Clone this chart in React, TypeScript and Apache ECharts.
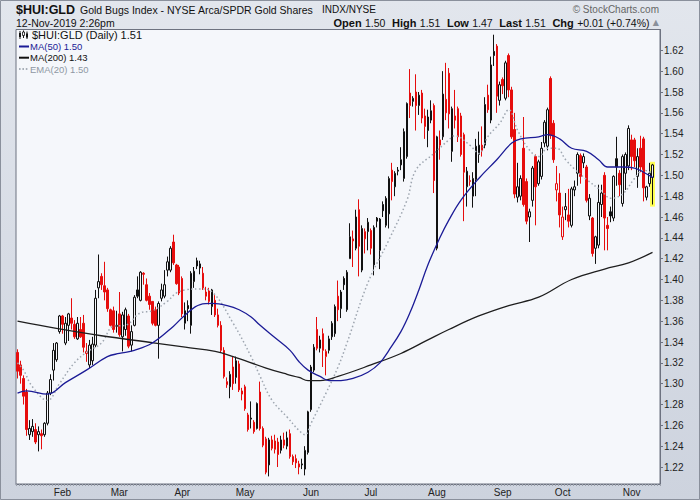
import React, { useEffect, useRef } from "react";
import * as echarts from "echarts";

// ---------- data ----------
const firstDay = "2019-01-10";
const lastSlot = "2019-11-14";
const holidays = ["2019-01-21", "2019-02-18", "2019-04-19", "2019-05-27", "2019-07-04", "2019-09-02"];
const monthNames = ["Jan", "Feb", "Mar", "Apr", "May", "Jun", "Jul", "Aug", "Sep", "Oct", "Nov", "Dec"];
const yTicks = [1.22, 1.24, 1.26, 1.28, 1.3, 1.32, 1.34, 1.36, 1.38, 1.4, 1.42, 1.44, 1.46, 1.48, 1.5, 1.52, 1.54, 1.56, 1.58, 1.6, 1.62];

// [open, close, low, high]
const ohlc = [
  [1.330, 1.312, 1.305, 1.333], [1.318, 1.308, 1.300, 1.322], [1.305, 1.288, 1.280, 1.308], [1.292, 1.256, 1.250, 1.295],
  [1.251, 1.257, 1.246, 1.265], [1.254, 1.259, 1.249, 1.266], [1.256, 1.244, 1.242, 1.262], [1.251, 1.254, 1.235, 1.259],
  [1.252, 1.250, 1.237, 1.256], [1.251, 1.262, 1.249, 1.263], [1.262, 1.291, 1.260, 1.293], [1.291, 1.304, 1.289, 1.309],
  [1.313, 1.332, 1.303, 1.339], [1.323, 1.339, 1.321, 1.340], [1.350, 1.365, 1.348, 1.366], [1.365, 1.357, 1.348, 1.366],
  [1.339, 1.358, 1.337, 1.364], [1.356, 1.367, 1.341, 1.368], [1.363, 1.358, 1.352, 1.382], [1.357, 1.345, 1.343, 1.361],
  [1.343, 1.358, 1.342, 1.364], [1.352, 1.345, 1.344, 1.364], [1.358, 1.335, 1.330, 1.366], [1.329, 1.331, 1.321, 1.339],
  [1.318, 1.337, 1.315, 1.342], [1.322, 1.338, 1.318, 1.345], [1.337, 1.382, 1.335, 1.390], [1.392, 1.398, 1.382, 1.424],
  [1.403, 1.395, 1.390, 1.406], [1.394, 1.388, 1.380, 1.417], [1.390, 1.372, 1.369, 1.392], [1.371, 1.356, 1.355, 1.372],
  [1.370, 1.352, 1.349, 1.374], [1.355, 1.356, 1.349, 1.370], [1.367, 1.347, 1.345, 1.388], [1.345, 1.366, 1.331, 1.369],
  [1.352, 1.371, 1.346, 1.373], [1.365, 1.336, 1.334, 1.367], [1.337, 1.350, 1.331, 1.356], [1.356, 1.383, 1.355, 1.385],
  [1.390, 1.384, 1.382, 1.403], [1.380, 1.407, 1.379, 1.408], [1.406, 1.405, 1.395, 1.407], [1.395, 1.380, 1.379, 1.401],
  [1.384, 1.376, 1.371, 1.387], [1.379, 1.358, 1.356, 1.379], [1.371, 1.356, 1.355, 1.374], [1.356, 1.377, 1.324, 1.379],
  [1.382, 1.390, 1.379, 1.396], [1.384, 1.395, 1.382, 1.409], [1.409, 1.417, 1.403, 1.422], [1.409, 1.430, 1.407, 1.432],
  [1.436, 1.416, 1.414, 1.443], [1.414, 1.396, 1.395, 1.415], [1.412, 1.387, 1.385, 1.414], [1.401, 1.367, 1.364, 1.403],
  [1.358, 1.370, 1.352, 1.378], [1.375, 1.372, 1.360, 1.380], [1.356, 1.406, 1.348, 1.408], [1.398, 1.408, 1.392, 1.412],
  [1.418, 1.413, 1.410, 1.421], [1.411, 1.415, 1.405, 1.418], [1.406, 1.392, 1.390, 1.412], [1.388, 1.384, 1.380, 1.393],
  [1.389, 1.379, 1.376, 1.392], [1.374, 1.390, 1.366, 1.391], [1.380, 1.366, 1.364, 1.385], [1.366, 1.356, 1.354, 1.372],
  [1.356, 1.332, 1.330, 1.360], [1.332, 1.307, 1.305, 1.335], [1.299, 1.302, 1.296, 1.306], [1.297, 1.309, 1.286, 1.312],
  [1.316, 1.300, 1.294, 1.326], [1.306, 1.322, 1.300, 1.326], [1.319, 1.294, 1.292, 1.322], [1.290, 1.293, 1.284, 1.296],
  [1.297, 1.276, 1.274, 1.299], [1.270, 1.256, 1.254, 1.272], [1.266, 1.267, 1.257, 1.283], [1.263, 1.254, 1.252, 1.265],
  [1.257, 1.281, 1.256, 1.282], [1.292, 1.257, 1.255, 1.302], [1.257, 1.241, 1.239, 1.259], [1.247, 1.215, 1.213, 1.249],
  [1.222, 1.246, 1.211, 1.248], [1.246, 1.238, 1.236, 1.250], [1.245, 1.237, 1.233, 1.251], [1.244, 1.232, 1.220, 1.248],
  [1.236, 1.246, 1.233, 1.250], [1.246, 1.241, 1.238, 1.253], [1.240, 1.248, 1.237, 1.254], [1.252, 1.230, 1.228, 1.256],
  [1.230, 1.225, 1.222, 1.232], [1.228, 1.224, 1.219, 1.232], [1.223, 1.220, 1.213, 1.226], [1.222, 1.223, 1.218, 1.228],
  [1.218, 1.236, 1.212, 1.240], [1.234, 1.273, 1.232, 1.274], [1.275, 1.316, 1.273, 1.318], [1.313, 1.335, 1.311, 1.338],
  [1.352, 1.334, 1.332, 1.364], [1.334, 1.342, 1.330, 1.346], [1.348, 1.332, 1.316, 1.353], [1.326, 1.331, 1.308, 1.333],
  [1.332, 1.343, 1.329, 1.346], [1.345, 1.358, 1.342, 1.360], [1.348, 1.374, 1.345, 1.376], [1.384, 1.371, 1.360, 1.399],
  [1.372, 1.388, 1.363, 1.390], [1.401, 1.395, 1.390, 1.403], [1.371, 1.407, 1.369, 1.409], [1.420, 1.441, 1.420, 1.454],
  [1.437, 1.439, 1.412, 1.447], [1.430, 1.460, 1.428, 1.467], [1.467, 1.432, 1.403, 1.477], [1.409, 1.449, 1.407, 1.452],
  [1.439, 1.446, 1.425, 1.449], [1.446, 1.455, 1.428, 1.459], [1.447, 1.430, 1.424, 1.449], [1.414, 1.450, 1.404, 1.452],
  [1.459, 1.456, 1.450, 1.460], [1.428, 1.458, 1.410, 1.459], [1.472, 1.466, 1.460, 1.475], [1.452, 1.478, 1.450, 1.480],
  [1.463, 1.497, 1.449, 1.499], [1.505, 1.494, 1.476, 1.512], [1.489, 1.502, 1.480, 1.504], [1.504, 1.505, 1.500, 1.508],
  [1.510, 1.515, 1.505, 1.527], [1.497, 1.542, 1.494, 1.545], [1.518, 1.569, 1.516, 1.570], [1.579, 1.567, 1.555, 1.602],
  [1.571, 1.574, 1.566, 1.576], [1.580, 1.567, 1.543, 1.597], [1.567, 1.577, 1.558, 1.580], [1.579, 1.555, 1.550, 1.582],
  [1.557, 1.547, 1.535, 1.564], [1.543, 1.556, 1.527, 1.563], [1.553, 1.562, 1.550, 1.572], [1.567, 1.495, 1.483, 1.569],
  [1.430, 1.537, 1.428, 1.538], [1.529, 1.534, 1.515, 1.543], [1.537, 1.578, 1.534, 1.600], [1.573, 1.560, 1.553, 1.608],
  [1.598, 1.559, 1.545, 1.603], [1.523, 1.564, 1.513, 1.566], [1.557, 1.553, 1.545, 1.582], [1.564, 1.537, 1.532, 1.566],
  [1.557, 1.520, 1.518, 1.560], [1.539, 1.503, 1.456, 1.541], [1.489, 1.504, 1.470, 1.508], [1.494, 1.495, 1.490, 1.500],
  [1.480, 1.497, 1.469, 1.503], [1.496, 1.528, 1.480, 1.535], [1.520, 1.529, 1.512, 1.542], [1.529, 1.524, 1.518, 1.547],
  [1.529, 1.568, 1.526, 1.575], [1.577, 1.563, 1.560, 1.587], [1.553, 1.606, 1.550, 1.614], [1.619, 1.615, 1.605, 1.635],
  [1.624, 1.576, 1.560, 1.626], [1.572, 1.587, 1.567, 1.590], [1.592, 1.586, 1.578, 1.594], [1.574, 1.608, 1.572, 1.610],
  [1.615, 1.582, 1.575, 1.617], [1.582, 1.537, 1.535, 1.585], [1.544, 1.482, 1.478, 1.560], [1.479, 1.489, 1.474, 1.512],
  [1.480, 1.497, 1.476, 1.500], [1.526, 1.472, 1.470, 1.556], [1.494, 1.456, 1.453, 1.497], [1.460, 1.465, 1.436, 1.468],
  [1.476, 1.507, 1.470, 1.509], [1.518, 1.489, 1.452, 1.520], [1.492, 1.513, 1.490, 1.515], [1.499, 1.526, 1.496, 1.532],
  [1.531, 1.551, 1.527, 1.553], [1.528, 1.563, 1.524, 1.565], [1.593, 1.538, 1.535, 1.595], [1.550, 1.515, 1.512, 1.553],
  [1.486, 1.492, 1.475, 1.509], [1.483, 1.462, 1.450, 1.502], [1.441, 1.460, 1.438, 1.470], [1.467, 1.470, 1.457, 1.483],
  [1.462, 1.456, 1.450, 1.487], [1.452, 1.487, 1.450, 1.489], [1.486, 1.489, 1.480, 1.495], [1.502, 1.520, 1.490, 1.522],
  [1.519, 1.499, 1.492, 1.521], [1.512, 1.518, 1.507, 1.521], [1.508, 1.476, 1.474, 1.510], [1.461, 1.478, 1.457, 1.482],
  [1.459, 1.425, 1.422, 1.460], [1.430, 1.441, 1.415, 1.442], [1.433, 1.474, 1.430, 1.491], [1.472, 1.483, 1.460, 1.491],
  [1.500, 1.459, 1.428, 1.503], [1.452, 1.449, 1.428, 1.460], [1.465, 1.461, 1.455, 1.470], [1.459, 1.499, 1.456, 1.500],
  [1.516, 1.508, 1.490, 1.537], [1.502, 1.491, 1.480, 1.505], [1.473, 1.518, 1.470, 1.520], [1.502, 1.520, 1.486, 1.522],
  [1.509, 1.545, 1.505, 1.548], [1.534, 1.518, 1.505, 1.539], [1.534, 1.514, 1.508, 1.536], [1.499, 1.518, 1.488, 1.526],
  [1.526, 1.508, 1.503, 1.538], [1.535, 1.488, 1.475, 1.537], [1.479, 1.489, 1.476, 1.490], [1.492, 1.502, 1.489, 1.512],
  [1.498, 1.510, 1.472, 1.511],
];

// [day index, value]
const ma50 = [
  [0, 1.291], [3, 1.293], [10, 1.29], [16, 1.301], [23, 1.313], [30, 1.326], [34, 1.329], [39, 1.332], [45, 1.339],
  [52, 1.355], [56, 1.366], [61, 1.376], [65, 1.377], [70, 1.375], [74, 1.371], [78, 1.364], [81, 1.356], [86, 1.344],
  [91, 1.332], [94, 1.321], [97, 1.313], [101, 1.307], [104, 1.303], [108, 1.303], [112, 1.305], [117, 1.311],
  [121, 1.32], [124, 1.332], [128, 1.35], [131, 1.368], [134, 1.39], [137, 1.414], [141, 1.44], [144, 1.457],
  [148, 1.476], [154, 1.497], [160, 1.515], [165, 1.531], [168, 1.535], [174, 1.537], [177, 1.539], [181, 1.535],
  [185, 1.526], [190, 1.523], [194, 1.515], [197, 1.508], [202, 1.508], [206, 1.507], [209, 1.503], [212, 1.498],
];
const ma200 = [
  [0, 1.36], [13, 1.353], [28, 1.346], [46, 1.339], [56, 1.335], [66, 1.331], [72, 1.326], [83, 1.315], [90, 1.309],
  [94, 1.306], [97, 1.303], [101, 1.303], [107, 1.307], [118, 1.318], [128, 1.329], [137, 1.342], [144, 1.352],
  [154, 1.365], [164, 1.375], [174, 1.383], [185, 1.4], [196, 1.41], [204, 1.416], [212, 1.426],
];
const ema20 = [
  [0, 1.32], [2, 1.313], [5, 1.297], [10, 1.284], [14, 1.3], [19, 1.32], [23, 1.33], [28, 1.339], [32, 1.355],
  [36, 1.356], [41, 1.368], [45, 1.37], [50, 1.379], [53, 1.387], [56, 1.39], [61, 1.391], [65, 1.388], [72, 1.358],
  [78, 1.326], [81, 1.307], [85, 1.284], [90, 1.268], [94, 1.255], [96, 1.251], [98, 1.262], [103, 1.291],
  [107, 1.316], [110, 1.339], [117, 1.397], [124, 1.438], [130, 1.476], [133, 1.505], [139, 1.521], [144, 1.534],
  [146, 1.538], [151, 1.529], [154, 1.521], [157, 1.537], [161, 1.55], [164, 1.563], [167, 1.543], [171, 1.524],
  [174, 1.518], [177, 1.526], [180, 1.526], [183, 1.515], [186, 1.506], [190, 1.496], [195, 1.485], [198, 1.478],
  [202, 1.482], [206, 1.497], [209, 1.505], [212, 1.502],
];
const highlightRange = [1.47, 1.513];

// ---------- styles ----------
const RED = "#e60d0d";
const BLACK = "#111111";
const PLOT_BG = "#f5f7fb";
const FONT = '"Liberation Sans", Arial, sans-serif';

function tradingDays(start: string, end: string, skip: string[]) {
  const out: string[] = [];
  const d = new Date(start + "T00:00:00Z");
  const e = new Date(end + "T00:00:00Z");
  while (d <= e) {
    const wd = d.getUTCDay();
    const s = d.toISOString().slice(0, 10);
    if (wd !== 0 && wd !== 6 && skip.indexOf(s) < 0) out.push(s);
    d.setUTCDate(d.getUTCDate() + 1);
  }
  return out;
}

export default function App() {
  const ref = useRef<HTMLDivElement>(null);
  useEffect(() => {
    document.body.style.margin = "0";
    if (!ref.current) return;
    const chart = echarts.init(ref.current, null, { renderer: "svg" });
    const dates = tradingDays(firstDay, lastSlot, holidays);
    const lastIdx = ohlc.length - 1;

    const candles = ohlc.map((c, i) => {
      const o = c[0];
      const cl = c[1];
      const prev = i > 0 ? ohlc[i - 1][1] : o;
      const col = cl < prev ? RED : BLACK;
      const fill = cl > o ? PLOT_BG : col;
      return {
        value: c,
        itemStyle: { color: fill, color0: fill, borderColor: col, borderColor0: col, borderColorDoji: col },
      };
    });

    const isMonthStart = (idx: number) => {
      if (idx === 0) return false;
      return dates[idx].slice(5, 7) !== dates[idx - 1].slice(5, 7);
    };

    const last = ohlc[lastIdx];
    const lastMa50 = ma50[ma50.length - 1][1];
    const lastMa200 = ma200[ma200.length - 1][1];
    const lastEma = ema20[ema20.length - 1][1];

    chart.setOption({
      animation: false,
      backgroundColor: new echarts.graphic.LinearGradient(0, 0, 0, 1, [
        { offset: 0, color: "#e2e6ed" },
        { offset: 1, color: "#cdd3de" },
      ]),
      grid: {
        left: 16,
        right: 40,
        top: 29.5,
        bottom: 16,
        show: true,
        backgroundColor: PLOT_BG,
        borderColor: "#6d7280",
        borderWidth: 1,
        containLabel: false,
      },
      xAxis: {
        type: "category",
        data: dates,
        boundaryGap: true,
        axisLine: { show: true, lineStyle: { color: "#6d7280", width: 1 } },
        axisTick: { show: true, interval: 0, length: 2, lineStyle: { color: "#9aa0aa" } },
        splitLine: { show: false },
        axisLabel: {
          interval: (idx: number) => isMonthStart(idx),
          formatter: (v: string) => monthNames[parseInt(v.slice(5, 7), 10) - 1],
          fontFamily: FONT,
          fontSize: 10,
          color: "#222",
          margin: 3,
        },
      },
      yAxis: {
        type: "value",
        position: "right",
        min: 1.2037,
        max: 1.64,
        scale: true,
        splitLine: { show: false },
        axisLine: { show: true, lineStyle: { color: "#6d7280", width: 1 } },
        axisTick: { show: true, customValues: yTicks, length: 3, lineStyle: { color: "#6d7280" } },
        axisLabel: {
          customValues: yTicks,
          formatter: (v: number) => v.toFixed(2),
          fontFamily: FONT,
          fontSize: 10,
          color: "#222",
          margin: 4,
        },
      },
      series: [
        {
          type: "custom",
          z: 1,
          silent: true,
          data: [[lastIdx, highlightRange[0], highlightRange[1]]],
          renderItem: (params: any, api: any) => {
            const top = api.coord([api.value(0), api.value(2)]);
            const bot = api.coord([api.value(0), api.value(1)]);
            return {
              type: "rect",
              shape: { x: top[0] - 2.5, y: top[1], width: 5, height: bot[1] - top[1] },
              style: { fill: "#ffff55" },
            };
          },
        },
        {
          type: "candlestick",
          z: 2,
          barWidth: 2,
          data: candles,
          itemStyle: { borderWidth: 1 },
        },
        {
          type: "line",
          z: 3,
          data: ema20,
          smooth: 0.4,
          symbol: "none",
          lineStyle: { color: "#9ea6b0", width: 1.5, type: [1.5, 2.5] },
        },
        {
          type: "line",
          z: 3,
          data: ma200,
          smooth: 0.4,
          symbol: "none",
          lineStyle: { color: "#1e1e1e", width: 1.3 },
        },
        {
          type: "line",
          z: 3,
          data: ma50,
          smooth: 0.4,
          symbol: "none",
          lineStyle: { color: "#1b1b96", width: 1.3 },
        },
      ],
      graphic: [
        {
          type: "rect",
          shape: { x: 0.5, y: 0.5, width: 699, height: 499 },
          style: { fill: "none", stroke: "#8a909c", lineWidth: 1 },
          silent: true,
        },
        {
          type: "text",
          x: 16,
          y: 9.5,
          style: { text: "$HUI:GLD", font: `bold 12.5px ${FONT}`, fill: "#111", verticalAlign: "middle" },
        },
        {
          type: "text",
          x: 80,
          y: 9.5,
          style: {
            text: "Gold Bugs Index - NYSE Arca/SPDR Gold Shares",
            font: `10.5px ${FONT}`,
            fill: "#111",
            verticalAlign: "middle",
          },
        },
        {
          type: "text",
          x: 322,
          y: 9.5,
          style: { text: "INDX/NYSE", font: `10px ${FONT}`, fill: "#111", verticalAlign: "middle" },
        },
        {
          type: "text",
          x: 659,
          y: 9,
          style: { text: "© StockCharts.com", font: `10px ${FONT}`, fill: "#666", align: "right", verticalAlign: "middle" },
        },
        {
          type: "text",
          x: 16,
          y: 22.5,
          style: { text: "12-Nov-2019 2:26pm", font: `10.5px ${FONT}`, fill: "#111", verticalAlign: "middle" },
        },
        {
          type: "text",
          x: 659,
          y: 22.5,
          style: {
            text:
              `{b|Open} {n|${last[0].toFixed(2)}}  {b|High} {n|${last[3].toFixed(2)}}  {b|Low} {n|${last[2].toFixed(2)}}  ` +
              `{b|Last} {n|${last[1].toFixed(2)}}  {b|Chg} {n|+0.01 (+0.74%)} {t|▲}`,
            align: "right",
            verticalAlign: "middle",
            rich: {
              b: { font: `bold 11px ${FONT}`, fill: "#111" },
              n: { font: `10.5px ${FONT}`, fill: "#111" },
              t: { font: `8px "DejaVu Sans", sans-serif`, fill: "#8a909a" },
            },
          },
        },
        // legend icons
        { type: "line", shape: { x1: 20, y1: 31, x2: 20, y2: 39 }, style: { stroke: "#111", lineWidth: 1 } },
        { type: "rect", shape: { x: 19, y: 33, width: 2, height: 4 }, style: { fill: "#111" } },
        { type: "line", shape: { x1: 23.5, y1: 30.5, x2: 23.5, y2: 38 }, style: { stroke: "#111", lineWidth: 1 } },
        { type: "rect", shape: { x: 22.5, y: 32, width: 2, height: 3.5 }, style: { fill: "#f5f7fb", stroke: "#111", lineWidth: 0.8 } },
        { type: "line", shape: { x1: 27, y1: 31.5, x2: 27, y2: 39 }, style: { stroke: "#111", lineWidth: 1 } },
        { type: "rect", shape: { x: 26, y: 33.5, width: 2, height: 4 }, style: { fill: "#111" } },
        {
          type: "text",
          x: 32,
          y: 35,
          style: { text: `$HUI:GLD (Daily) ${last[1].toFixed(2)}`, font: `11px ${FONT}`, fill: "#111", verticalAlign: "middle" },
        },
        { type: "line", shape: { x1: 19, y1: 46.5, x2: 29, y2: 46.5 }, style: { stroke: "#1b1b96", lineWidth: 2 } },
        {
          type: "text",
          x: 30,
          y: 46.5,
          style: { text: `MA(50) ${lastMa50.toFixed(2)}`, font: `9.5px ${FONT}`, fill: "#1b1b96", verticalAlign: "middle" },
        },
        { type: "line", shape: { x1: 19, y1: 57.7, x2: 29, y2: 57.7 }, style: { stroke: "#111", lineWidth: 2 } },
        {
          type: "text",
          x: 30,
          y: 57.7,
          style: { text: `MA(200) ${lastMa200.toFixed(2)}`, font: `9.5px ${FONT}`, fill: "#111", verticalAlign: "middle" },
        },
        {
          type: "line",
          shape: { x1: 19, y1: 69, x2: 29, y2: 69 },
          style: { stroke: "#8f98a3", lineWidth: 1.6, lineDash: [1.6, 1.8] },
        },
        {
          type: "text",
          x: 30,
          y: 69,
          style: { text: `EMA(20) ${lastEma.toFixed(2)}`, font: `9.5px ${FONT}`, fill: "#8f98a3", verticalAlign: "middle" },
        },
      ],
    });
    return () => chart.dispose();
  }, []);
  return <div ref={ref} style={{ width: 700, height: 500 }} />;
}
